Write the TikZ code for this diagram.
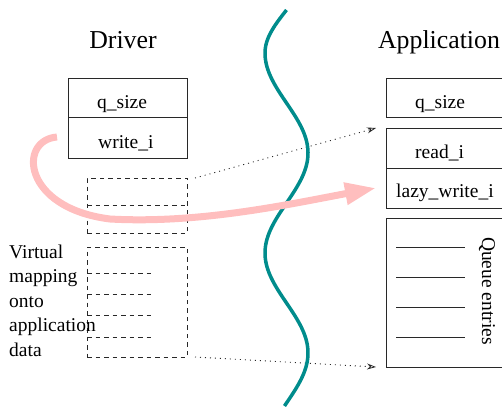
\documentclass[tikz,border=0pt]{standalone}
\usepackage{fontspec}
\setmainfont{Liberation Serif}
\usetikzlibrary{arrows.meta}
\definecolor{wavec}{RGB}{0,140,140}
\definecolor{flowc}{RGB}{255,190,190}
\definecolor{linec}{RGB}{40,40,40}
\begin{document}
\begin{tikzpicture}[x=1pt,y=-1pt,
  solidbox/.style={draw=linec, line width=1pt, inner sep=0pt, outer sep=0pt},
  dashbox/.style={draw=linec, line width=0.9pt, dash pattern=on 4.5pt off 4pt, inner sep=0pt, outer sep=0pt},
  dashline/.style={draw=linec, line width=0.9pt, dash pattern=on 4.5pt off 4pt},
  lbl/.style={font=\fontsize{19.5}{23}\selectfont, inner sep=0pt, anchor=base west},
  head/.style={font=\fontsize{25.8}{30}\selectfont, inner sep=0pt, anchor=base},
  dotarrow/.style={draw=linec, line width=0.9pt, dash pattern=on 1pt off 4pt,
    -{Stealth[open, length=9pt, width=6pt, line width=0.8pt]}},
  flow/.style={draw=flowc, line width=7pt, -{Triangle[length=31pt, width=21pt, fill=flowc]}},
  wave/.style={draw=wavec, line width=3.5pt, line join=round}]
\clip (0,0) rectangle (502,406);

% headings
\node[head] (hdrv) at (123,49) {Driver};
\node[head] (happ) at (439,49) {Application};

% driver-side index box
\node[solidbox, minimum width=119pt, minimum height=39pt] (dq) at (127.5,98.5) {};
\node[solidbox, minimum width=119pt, minimum height=40pt] (dw) at (127.5,138) {};
\node[lbl] (tdq) at (97,109) {q\_size};
\node[lbl] (tdw) at (98,148) {write\_i};

% virtual mapping of the application data
\node[dashbox, minimum width=100pt, minimum height=55pt] (map1) at (137,205.5) {};
\draw[dashline] (map1.west |- 0,205) -- (map1.east |- 0,205);
\node[dashbox, minimum width=100pt, minimum height=110pt] (map2) at (137,302) {};
\foreach \yy in {273,294,315,337}
  \draw[dashline] (map2.west |- 0,\yy) -- (154,\yy);

\node[lbl] (v1) at (9,258) {Virtual};
\node[lbl] (v2) at (9,282.5) {mapping};
\node[lbl] (v3) at (9,307) {onto};
\node[lbl] (v4) at (9,331.5) {application};
\node[lbl] (v5) at (9,356) {data};

% application-side structures
\node[solidbox, minimum width=134pt, minimum height=39pt] (aq) at (453,98.5) {};
\node[solidbox, minimum width=134pt, minimum height=39pt] (ar) at (453,148.5) {};
\node[solidbox, minimum width=134pt, minimum height=40pt] (al) at (453,188) {};
\node[lbl] (taq) at (415,109) {q\_size};
\node[lbl] (tar) at (415,158) {read\_i};
\node[lbl] (tal) at (396,197) {lazy\_write\_i};

\node[solidbox, minimum width=134pt, minimum height=149pt] (queue) at (453,292.5) {};
\foreach \yy in {247,277,307,337}
  \draw[linec, line width=1pt] (396,\yy) -- (465,\yy);
\node[font=\fontsize{19.5}{23}\selectfont, inner sep=0pt, rotate=-90] (tqe) at (487,291) {Queue entries};

% mapping correspondence
\draw[dotarrow] ([xshift=8pt]map1.north east) -- ([xshift=-10pt,yshift=1pt]ar.north west);
\draw[dotarrow] ([xshift=8pt]map2.south east) -- ([xshift=-10pt]queue.south west);

% boundary between driver and application
\draw[wave] plot[domain=10:53, samples=30, variable=\t] ({286.5-21.5*cos(90*(\t-53)/43)}, \t)
  -- plot[domain=53:406, samples=150, variable=\t] ({286.5-21.5*cos(1.8*(\t-53))}, \t);

% write index copied into lazy write index
\coordinate (fstart) at (57,137);
\draw[flow] (fstart) .. controls (18,140) and (22,208) .. (110,219)
  .. controls (200,224) and (290,204) .. ([xshift=-10pt]al.west);
\end{tikzpicture}
\end{document}
